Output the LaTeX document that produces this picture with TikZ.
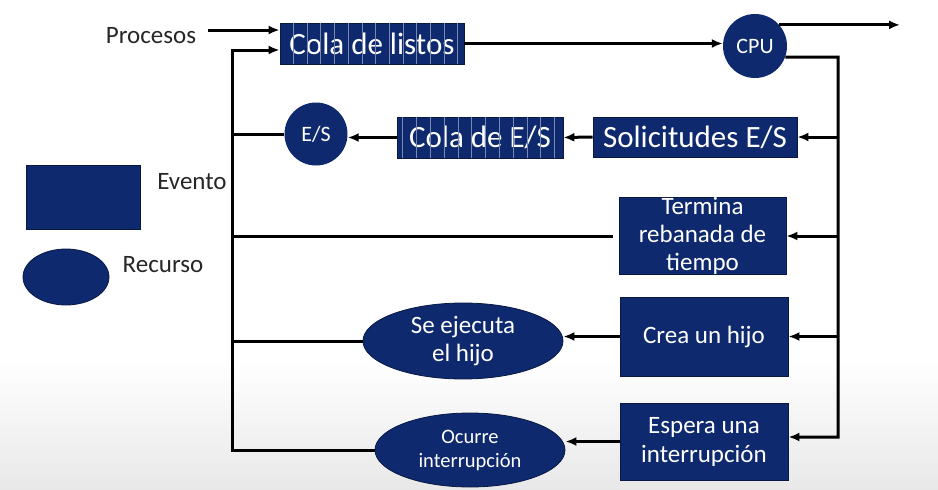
\documentclass[tikz,border=0pt]{standalone}
\usepackage{fontspec}
\setmainfont{Carlito}
\usetikzlibrary{shapes.geometric}
\usetikzlibrary{arrows.meta}
\definecolor{azul}{RGB}{14,41,110}
\tikzset{
    evento/.style = {rectangle, draw=azul!60!black, line width=0.8pt, fill=azul, text=white, align=center, inner sep=0pt, font=\fontsize{25}{28}\selectfont},
    cola/.style = {evento, font=\fontsize{31}{34}\selectfont},
    recurso/.style = {ellipse, draw=azul!60!black, line width=0.8pt, fill=azul, text=white, align=center, inner sep=0pt, font=\fontsize{25}{28}\selectfont},
    recursoc/.style = {circle, fill=azul, text=white, minimum size=63pt, inner sep=0pt, font=\fontsize{22}{24}\selectfont},
    etiq/.style = {text=black!85, font=\fontsize{25}{28}\selectfont},
    edgen/.style = {-{Latex[length=11pt,width=9pt]}, line width=3pt},
    linea/.style = {line width=3pt},
    raya/.style = {white!45!azul, line width=0.5pt},
}
\begin{document}
\begin{tikzpicture}[x=1pt,y=-1pt]
\path[use as bounding box] (0,0) rectangle (938,490);
\shade[top color=white, bottom color=black!9] (0,360) rectangle (938,490);
% leyenda
\node[evento, minimum width=114pt, minimum height=64pt] at (83,197) (evleyenda) {};
\node[etiq] at (192,182) (evtexto) {Evento};
\node[recurso, minimum width=86pt, minimum height=56pt] at (66,277) (recleyenda) {};
\node[etiq] at (163,265) (rectexto) {Recurso};
%
\node[etiq] at (151,36) (procesos) {Procesos};
\node[cola, minimum width=184pt, minimum height=41pt] at (372,43.5) (listos) {Cola de listos};
\node[recursoc, minimum size=64pt] at (755,46) (cpu) {CPU};
\node[cola, minimum width=204pt, minimum height=40pt] at (695,137) (solicitudes) {Solicitudes E/S};
\node[cola, minimum width=166pt, minimum height=41pt] at (480,137.5) (colaes) {Cola de E/S};
\node[recursoc] at (316,134) (es) {E/S};
\node[evento, minimum width=167pt, minimum height=77pt] at (702.5,236) (termina) {Termina\\rebanada de\\tiempo};
\node[evento, minimum width=168pt, minimum height=79pt] at (704,336.5) (crea) {Crea un hijo};
\node[recurso, minimum width=200pt, minimum height=76pt] at (463,341) (hijo) {Se ejecuta\\el hijo};
\node[evento, minimum width=168pt, minimum height=77pt, font=\fontsize{25}{29}\selectfont] at (704,441.5) (espera) {Espera una\\interrupción};
\node[recurso, minimum width=190pt, minimum height=74pt, font=\fontsize{20.5}{24}\selectfont] at (470,450) (ocurre) {Ocurre\\interrupción};
%
\foreach \k in {1,...,13}
    \draw[raya] ([xshift=\k*13.7pt]listos.south west) -- ([xshift=\k*13.7pt]listos.north west);
\foreach \k in {0,...,11}
    \draw[raya] ([xshift=6pt+\k*13.8pt]colaes.south west) -- ([xshift=6pt+\k*13.8pt]colaes.north west);
%
\coordinate (entrada) at (208,30);
\coordinate (salida) at (900,25);
\coordinate (busizq) at (232,50);
\coordinate (busder) at (838,57);
\coordinate (busderfin) at (838,437);
%
\draw[edgen] (entrada) -- (entrada -| listos.west);
\draw[edgen] (ocurre.west) -- (ocurre.west -| busizq) -- (busizq) -- (busizq -| listos.west);
\draw[edgen] (listos.east) -- (listos.east -| cpu.west);
\draw[edgen] (cpu.41) -- (cpu.41 -| salida);
\draw[edgen] (cpu.-20) -- (busder) -- (busderfin) -- (busderfin -| espera.east);
\draw[edgen] (solicitudes.east -| busder) -- (solicitudes.east);
\draw[edgen] (termina.east -| busder) -- (termina.east);
\draw[edgen] (crea.east -| busder) -- (crea.east);
\draw[edgen] (solicitudes.west) -- (colaes.east);
\draw[edgen] (colaes.west) -- (colaes.west -| es.east);
\draw[edgen] (crea.west) -- (crea.west -| hijo.east);
\draw[edgen] (espera.west) -- (espera.west -| ocurre.east);
\draw[linea] (es.west) -- (es.west -| busizq);
\draw[linea, shorten <=6pt] (termina.west) -- (termina.west -| busizq);
\draw[linea] (hijo.west) -- (hijo.west -| busizq);
\end{tikzpicture}
\end{document}
